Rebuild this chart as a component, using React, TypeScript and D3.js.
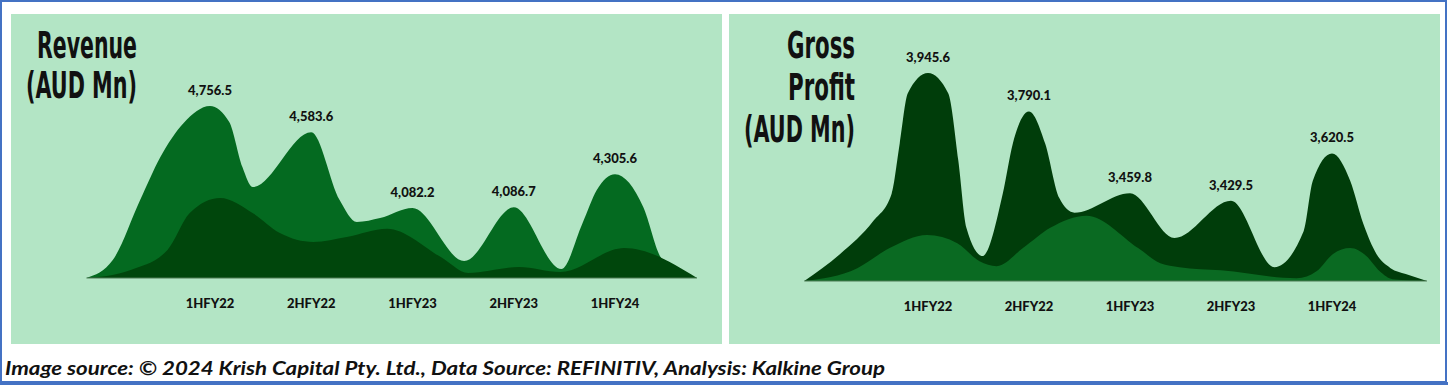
import React from 'react'
import { scaleLinear, area, curveMonotoneX } from 'd3'

const categories = ['1HFY22', '2HFY22', '1HFY23', '2HFY23', '1HFY24']
const revenue = [4756.5, 4583.6, 4082.2, 4086.7, 4305.6]
const grossProfit = [3945.6, 3790.1, 3459.8, 3429.5, 3620.5]

// silhouette points: [category position, value]
const revenueValleys = [[-1.22, 3620], [-0.96, 3739], [-0.69, 4135], [-0.49, 4419], [-0.26, 4644], [0.19, 4650], [0.32, 4353], [0.42, 4221],
  [1.28, 4135], [1.45, 3990], [1.68, 4016], [2.51, 3732], [3.47, 3679], [3.68, 3983], [3.82, 4201], [4.28, 4087], [4.45, 3758], [4.64, 3653], [4.81, 3620]]
const revenueInner = [[-1.22, 3620], [-0.79, 3672], [-0.42, 3805], [-0.2, 4049], [0.1, 4148], [0.42, 4049], [0.69, 3917], [1.02, 3858],
  [1.35, 3891], [1.75, 3945], [2.28, 3758], [2.55, 3653], [3.05, 3692], [3.46, 3659], [4.09, 3818], [4.81, 3620]]
const profitValleys = [[-1.225, 3105], [-0.87, 3214], [-0.54, 3348], [-0.36, 3458], [-0.28, 3661], [-0.2, 3864], [0.2, 3864], [0.3, 3592],
  [0.38, 3320], [0.54, 3206], [0.74, 3458], [0.84, 3661], [1.16, 3661], [1.3, 3440], [1.45, 3381], [2.44, 3279], [3.43, 3161],
  [3.72, 3307], [3.81, 3510], [4.18, 3510], [4.31, 3336], [4.44, 3214], [4.58, 3157], [4.73, 3133], [4.94, 3105]]
const profitInner = [[-1.225, 3105], [-0.7, 3157], [-0.38, 3238], [-0.01, 3291], [0.29, 3258], [0.51, 3185], [0.68, 3165], [0.94, 3238],
  [1.21, 3320], [1.57, 3369], [2.08, 3238], [2.3, 3177], [2.49, 3161], [2.9, 3148], [3.65, 3116], [3.85, 3145], [4.01, 3214],
  [4.18, 3238], [4.34, 3206], [4.47, 3145], [4.6, 3112], [4.94, 3105]]

const titleRevenue = ['Revenue', '(AUD Mn)']
const titleProfit = ['Gross', 'Profit', '(AUD Mn)']
const footer = 'Image source: © 2024 Krish Capital Pty. Ltd., Data Source: REFINITIV, Analysis: Kalkine Group'

const fmt = (v: number) => v.toLocaleString('en-US', { minimumFractionDigits: 1, maximumFractionDigits: 1 })

function Panel(props: any) {
  const { px, xr, yr, domain, values, valleys, inner, backColor, frontColor, title, titleX, titleY, titleGap, titleWidths } = props
  const x = scaleLinear().domain([0, 4]).range(xr)
  const y = scaleLinear().domain(domain).range(yr)
  const peaks = values.map((v: number, i: number) => [i, v])
  const main = [...peaks, ...valleys].sort((a, b) => a[0] - b[0])
  const shape = area<number[]>().x(d => x(d[0])).y0(y(domain[0])).y1(d => y(d[1])).curve(curveMonotoneX)

  return (
    <g>
      <rect x={px} y={14} width={711} height={330} fill="#b3e5c5" />
      {/* tall narrow title, right aligned at titleX */}
      {title.map((t: string, i: number) => (
        <text key={t} transform={`translate(${titleX - titleWidths[i]},${titleY + i * titleGap}) scale(1,1.35)`}
          fontFamily="DejaVu Sans Condensed, DejaVu Sans" fontWeight="bold" fontSize={27}
          textLength={titleWidths[i]} lengthAdjust="spacingAndGlyphs" fill="#111">{t}</text>
      ))}
      <path d={shape(main) || ''} fill={backColor} />
      <path d={shape(inner) || ''} fill={frontColor} />
      <line x1={x(main[0][0])} x2={x(main[main.length - 1][0])} y1={y(domain[0])} y2={y(domain[0])} stroke="#4d7a55" strokeWidth={1} />
      {values.map((v: number, i: number) => (
        <text key={'v' + i} x={x(i)} y={y(v) - 11} textAnchor="middle" fontFamily="Lato" fontWeight="900" fontSize={13} fill="#111">{fmt(v)}</text>
      ))}
      {categories.map((c, i) => (
        <text key={c} x={x(i)} y={yr[0] + 30} textAnchor="middle" fontFamily="Lato" fontWeight="900" fontSize={13} fill="#111">{c}</text>
      ))}
    </g>
  )
}

export default function App() {
  return (
    <svg width={1448} height={385} style={{ position: 'absolute', left: 0, top: 0 }}>
      <rect x={0} y={0} width={1448} height={385} fill="#fff" />
      <rect x={1} y={1} width={1445} height={381} fill="none" stroke="#4472c4" strokeWidth={2} />
      <line x1={0} x2={1448} y1={383.5} y2={383.5} stroke="#4472c4" strokeWidth={3} />
      <Panel px={11} xr={[210, 615]} yr={[278, 106]} domain={[3620, 4756.5]} values={revenue}
        valleys={revenueValleys} inner={revenueInner} backColor="#046a20" frontColor="#00460c"
        title={titleRevenue} titleX={137} titleY={58} titleGap={40} titleWidths={[100, 111]} />
      <Panel px={729} xr={[928, 1332]} yr={[281, 73]} domain={[3105, 3945.6]} values={grossProfit}
        valleys={profitValleys} inner={profitInner} backColor="#003d0a" frontColor="#0a6a22"
        title={titleProfit} titleX={855} titleY={58} titleGap={42} titleWidths={[68, 67, 111]} />
      <text x={5} y={375} fontFamily="Lato" fontWeight="bold" fontStyle="italic" fontSize={19}
        textLength={880} lengthAdjust="spacingAndGlyphs" fill="#111">{footer}</text>
    </svg>
  )
}
